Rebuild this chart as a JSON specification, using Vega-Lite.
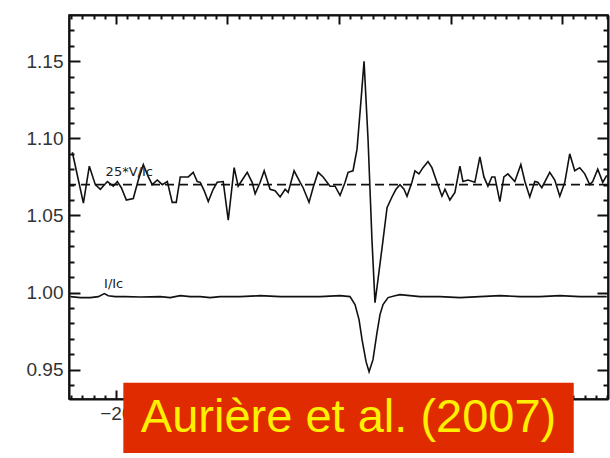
{
  "$schema": "https://vega.github.io/schema/vega-lite/v6.json",
  "width": 539,
  "height": 384,
  "autosize": {"type": "none"},
  "padding": {"left": 69, "top": 15, "right": 2, "bottom": 59},
  "background": "white",
  "config": {
    "view": {"stroke": "black", "strokeWidth": 1.5},
    "axis": {
      "grid": false,
      "domainColor": "#111",
      "domainWidth": 2,
      "tickColor": "#111",
      "tickWidth": 2,
      "labelFont": "Liberation Sans",
      "labelFontSize": 19,
      "labelColor": "#333",
      "title": null
    }
  },
  "resolve": {"axis": {"x": "independent", "y": "independent"}},
  "datasets": {
    "stokesV": [
      {"v": -23.90, "y": 1.091}, {"v": -22.91, "y": 1.058}, {"v": -22.38, "y": 1.082}, {"v": -21.84, "y": 1.070},
      {"v": -21.39, "y": 1.067}, {"v": -20.76, "y": 1.072}, {"v": -20.23, "y": 1.069}, {"v": -19.87, "y": 1.072},
      {"v": -19.51, "y": 1.068}, {"v": -19.06, "y": 1.060}, {"v": -18.44, "y": 1.061}, {"v": -17.99, "y": 1.073},
      {"v": -17.54, "y": 1.083}, {"v": -17.09, "y": 1.075}, {"v": -16.74, "y": 1.070}, {"v": -16.29, "y": 1.073},
      {"v": -15.84, "y": 1.070}, {"v": -15.39, "y": 1.072}, {"v": -14.95, "y": 1.0585}, {"v": -14.59, "y": 1.0585},
      {"v": -14.23, "y": 1.075}, {"v": -13.87, "y": 1.075}, {"v": -13.51, "y": 1.075}, {"v": -13.07, "y": 1.078},
      {"v": -12.71, "y": 1.072}, {"v": -12.44, "y": 1.0715}, {"v": -12.08, "y": 1.066}, {"v": -11.72, "y": 1.059},
      {"v": -11.28, "y": 1.067}, {"v": -10.92, "y": 1.0715}, {"v": -10.38, "y": 1.072}, {"v": -9.93, "y": 1.047},
      {"v": -9.40, "y": 1.081}, {"v": -9.04, "y": 1.069}, {"v": -8.68, "y": 1.073}, {"v": -8.23, "y": 1.078},
      {"v": -7.79, "y": 1.0715}, {"v": -7.52, "y": 1.064}, {"v": -7.07, "y": 1.0715}, {"v": -6.71, "y": 1.079},
      {"v": -6.18, "y": 1.067}, {"v": -5.73, "y": 1.066}, {"v": -5.28, "y": 1.062}, {"v": -4.83, "y": 1.067},
      {"v": -4.56, "y": 1.065}, {"v": -4.03, "y": 1.079}, {"v": -3.49, "y": 1.0715}, {"v": -3.22, "y": 1.068},
      {"v": -2.69, "y": 1.0585}, {"v": -2.33, "y": 1.068}, {"v": -1.88, "y": 1.078}, {"v": -1.43, "y": 1.075},
      {"v": -0.81, "y": 1.069}, {"v": -0.36, "y": 1.069}, {"v": 0.09, "y": 1.063}, {"v": 0.54, "y": 1.0715},
      {"v": 0.81, "y": 1.078}, {"v": 1.25, "y": 1.079}, {"v": 1.61, "y": 1.093}, {"v": 1.97, "y": 1.125},
      {"v": 2.24, "y": 1.150}, {"v": 2.60, "y": 1.099}, {"v": 2.95, "y": 1.034}, {"v": 3.22, "y": 0.9935},
      {"v": 3.49, "y": 1.0085}, {"v": 3.94, "y": 1.034}, {"v": 4.30, "y": 1.055}, {"v": 4.74, "y": 1.062},
      {"v": 5.10, "y": 1.067}, {"v": 5.46, "y": 1.070}, {"v": 5.82, "y": 1.067}, {"v": 6.09, "y": 1.0625},
      {"v": 6.53, "y": 1.0715}, {"v": 6.80, "y": 1.079}, {"v": 7.16, "y": 1.077}, {"v": 7.52, "y": 1.081},
      {"v": 7.97, "y": 1.085}, {"v": 8.32, "y": 1.081}, {"v": 8.77, "y": 1.0715}, {"v": 9.22, "y": 1.0625},
      {"v": 9.49, "y": 1.067}, {"v": 9.93, "y": 1.060}, {"v": 10.38, "y": 1.065}, {"v": 10.83, "y": 1.082},
      {"v": 11.10, "y": 1.072}, {"v": 11.55, "y": 1.073}, {"v": 12.17, "y": 1.0715}, {"v": 12.62, "y": 1.088},
      {"v": 12.98, "y": 1.075}, {"v": 13.34, "y": 1.069}, {"v": 13.69, "y": 1.075}, {"v": 13.96, "y": 1.075},
      {"v": 14.41, "y": 1.059}, {"v": 14.77, "y": 1.075}, {"v": 15.13, "y": 1.077}, {"v": 15.75, "y": 1.072},
      {"v": 16.29, "y": 1.083}, {"v": 16.65, "y": 1.072}, {"v": 17.09, "y": 1.062}, {"v": 17.54, "y": 1.072},
      {"v": 17.81, "y": 1.0715}, {"v": 18.17, "y": 1.068}, {"v": 18.88, "y": 1.078}, {"v": 19.33, "y": 1.073},
      {"v": 19.78, "y": 1.0625}, {"v": 20.23, "y": 1.0715}, {"v": 20.67, "y": 1.090}, {"v": 21.12, "y": 1.079},
      {"v": 21.57, "y": 1.081}, {"v": 22.02, "y": 1.077}, {"v": 22.46, "y": 1.070}, {"v": 22.73, "y": 1.072},
      {"v": 23.18, "y": 1.080}, {"v": 23.63, "y": 1.0715}, {"v": 23.99, "y": 1.076}
    ],
    "stokesI": [
      {"v": -24.08, "y": 0.9974}, {"v": -23.18, "y": 0.99675}, {"v": -22.29, "y": 0.99675}, {"v": -21.57, "y": 0.9974},
      {"v": -21.03, "y": 0.99935}, {"v": -20.68, "y": 0.998}, {"v": -20.05, "y": 0.9974}, {"v": -19.16, "y": 0.9974},
      {"v": -17.81, "y": 0.9971}, {"v": -16.02, "y": 0.9974}, {"v": -15.13, "y": 0.99675}, {"v": -14.23, "y": 0.998},
      {"v": -13.34, "y": 0.9974}, {"v": -12.44, "y": 0.9974}, {"v": -11.55, "y": 0.99675}, {"v": -10.65, "y": 0.9974},
      {"v": -8.86, "y": 0.9974}, {"v": -7.07, "y": 0.998}, {"v": -5.28, "y": 0.9974}, {"v": -3.49, "y": 0.9974},
      {"v": -1.70, "y": 0.9974}, {"v": 0.09, "y": 0.998}, {"v": 0.98, "y": 0.9974}, {"v": 1.43, "y": 0.9922},
      {"v": 1.79, "y": 0.9825}, {"v": 2.06, "y": 0.9695}, {"v": 2.42, "y": 0.9552}, {"v": 2.69, "y": 0.9487},
      {"v": 3.04, "y": 0.9565}, {"v": 3.40, "y": 0.974}, {"v": 3.67, "y": 0.9857}, {"v": 3.94, "y": 0.9922},
      {"v": 4.39, "y": 0.99675}, {"v": 5.01, "y": 0.998}, {"v": 5.46, "y": 0.9987}, {"v": 7.25, "y": 0.9974},
      {"v": 9.04, "y": 0.9974}, {"v": 10.83, "y": 0.99675}, {"v": 12.62, "y": 0.9974}, {"v": 14.41, "y": 0.998},
      {"v": 16.20, "y": 0.9974}, {"v": 17.99, "y": 0.9974}, {"v": 19.78, "y": 0.998}, {"v": 21.57, "y": 0.9974},
      {"v": 23.36, "y": 0.9974}, {"v": 23.99, "y": 0.9974}
    ],
    "labels": [
      {"v": -18.8, "y": 1.078, "text": "25*V/Ic"},
      {"v": -20.2, "y": 1.0058, "text": "I/Ic"}
    ],
    "one": [{}]
  },
  "layer": [
    {
      "data": {"name": "stokesV"},
      "mark": {"type": "line", "color": "#111", "strokeWidth": 1.6, "clip": true},
      "encoding": {
        "x": {
          "field": "v", "type": "quantitative",
          "scale": {"domain": [-24.2, 24.1], "nice": false, "zero": false},
          "axis": {
            "orient": "bottom",
            "values": [-24,-23,-22,-21,-20,-19,-18,-17,-16,-15,-14,-13,-12,-11,-10,-9,-8,-7,-6,-5,-4,-3,-2,-1,0,1,2,3,4,5,6,7,8,9,10,11,12,13,14,15,16,17,18,19,20,21,22,23,24],
            "labelExpr": "datum.value % 10 === 0 ? datum.label : ''",
            "tickSize": {"condition": {"test": "datum.value % 10 === 0", "value": -9}, "value": -4},
            "labelPadding": 14,
            "labelFlush": false,
            "labelOverlap": false
          }
        },
        "y": {
          "field": "y", "type": "quantitative",
          "scale": {"domain": [0.931, 1.18], "nice": false, "zero": false},
          "axis": {
            "orient": "left",
            "values": [0.94,0.95,0.96,0.97,0.98,0.99,1.0,1.01,1.02,1.03,1.04,1.05,1.06,1.07,1.08,1.09,1.1,1.11,1.12,1.13,1.14,1.15,1.16,1.17],
            "format": ".2f",
            "labelExpr": "round(datum.value*100) % 5 === 0 ? datum.label : ''",
            "tickSize": {"condition": {"test": "round(datum.value*100) % 5 === 0", "value": -11}, "value": -5},
            "labelPadding": 17,
            "labelOverlap": false
          }
        }
      }
    },
    {
      "data": {"name": "stokesI"},
      "mark": {"type": "line", "color": "#111", "strokeWidth": 1.6, "clip": true},
      "encoding": {
        "x": {
          "field": "v", "type": "quantitative",
          "axis": {
            "orient": "top",
            "values": [-24,-23,-22,-21,-20,-19,-18,-17,-16,-15,-14,-13,-12,-11,-10,-9,-8,-7,-6,-5,-4,-3,-2,-1,0,1,2,3,4,5,6,7,8,9,10,11,12,13,14,15,16,17,18,19,20,21,22,23,24],
            "labels": false,
            "tickSize": {"condition": {"test": "datum.value % 10 === 0", "value": -9}, "value": -4}
          }
        },
        "y": {
          "field": "y", "type": "quantitative",
          "axis": {
            "orient": "right",
            "values": [0.94,0.95,0.96,0.97,0.98,0.99,1.0,1.01,1.02,1.03,1.04,1.05,1.06,1.07,1.08,1.09,1.1,1.11,1.12,1.13,1.14,1.15,1.16,1.17],
            "labels": false,
            "tickSize": {"condition": {"test": "round(datum.value*100) % 5 === 0", "value": -11}, "value": -5}
          }
        }
      }
    },
    {
      "data": {"name": "one"},
      "mark": {"type": "rule", "color": "#111", "strokeWidth": 1.6, "strokeDash": [9, 5]},
      "encoding": {
        "y": {"datum": 1.07, "type": "quantitative", "axis": null}
      }
    },
    {
      "data": {"name": "labels"},
      "mark": {"type": "text", "font": "DejaVu Sans", "fontSize": 13, "color": "#222", "align": "center", "baseline": "middle"},
      "encoding": {
        "x": {"field": "v", "type": "quantitative", "axis": null},
        "y": {"field": "y", "type": "quantitative", "axis": null},
        "text": {"field": "text"}
      }
    },
    {
      "data": {"name": "one"},
      "mark": {"type": "rect", "color": "#E02A00", "clip": false},
      "encoding": {
        "x": {"datum": -19.33, "type": "quantitative", "axis": null},
        "x2": {"datum": 21.03},
        "y": {"datum": 0.9415, "type": "quantitative", "axis": null},
        "y2": {"datum": 0.896}
      }
    },
    {
      "data": {"name": "one"},
      "mark": {"type": "text", "text": "Aurière et al. (2007)", "font": "Liberation Sans", "fontSize": 47, "color": "#FFF000", "align": "center", "baseline": "middle", "clip": false},
      "encoding": {
        "x": {"datum": 0.85, "type": "quantitative", "axis": null},
        "y": {"datum": 0.9188, "type": "quantitative", "axis": null}
      }
    }
  ]
}
